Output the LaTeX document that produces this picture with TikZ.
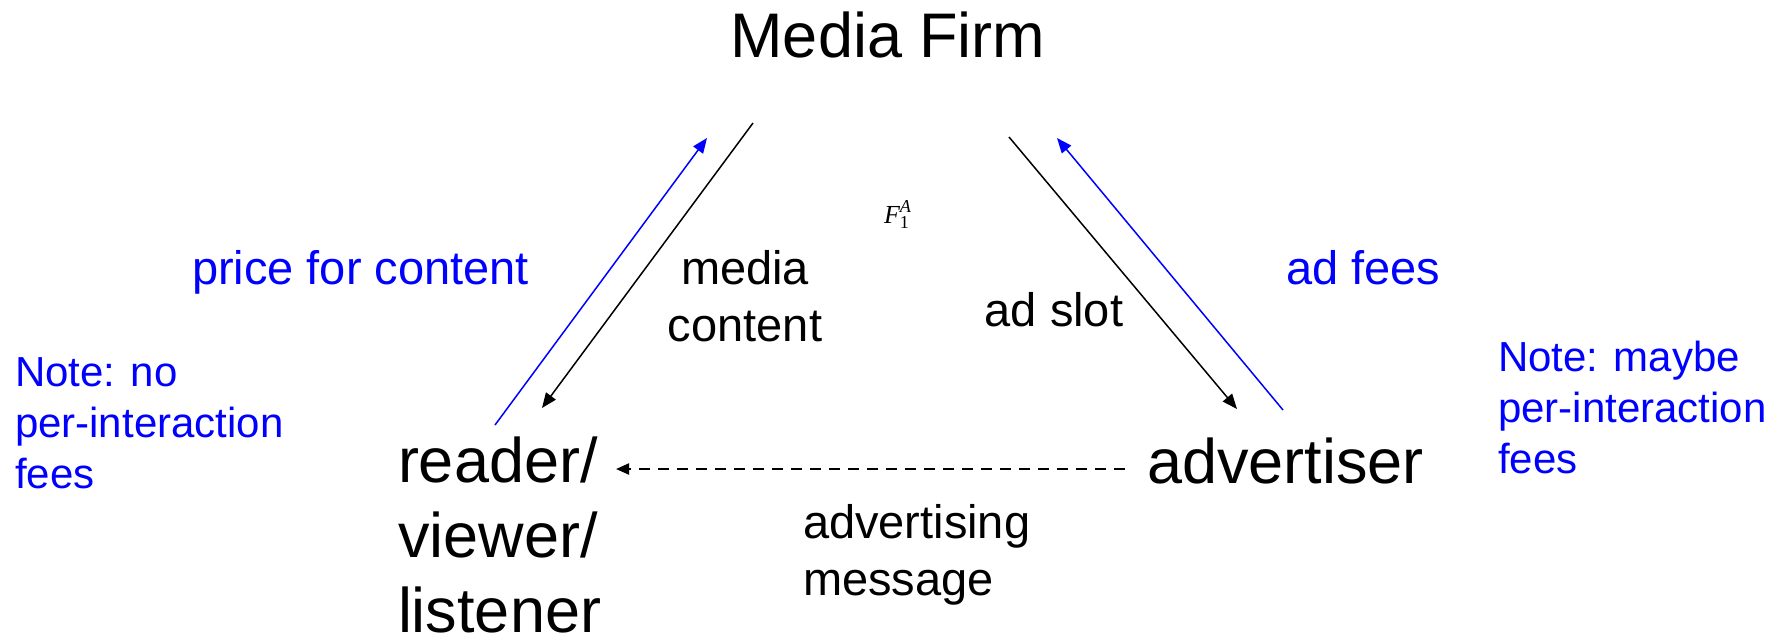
\documentclass[tikz,border=0pt]{standalone}
\usepackage{amsmath}
\usepackage{fontspec}
\setmainfont{Liberation Sans}
\newfontfamily\timesf{Liberation Serif}
\usetikzlibrary{arrows.meta}

\begin{document}
\begin{tikzpicture}[x=0.5pt,y=-0.5pt,
  every node/.style={inner sep=0pt, outer sep=0pt},
  bigtext/.style={font=\fontsize{31.5}{37.5}\selectfont},
  midtext/.style={font=\fontsize{23.5}{28.5}\selectfont},
  notetext/.style={font=\fontsize{21}{25.5}\selectfont, text=blue, align=left},
  flow/.style={line width=0.75pt, -{Triangle[length=7.5pt,width=6pt]}},
  payflow/.style={flow, draw=blue},
  msgflow/.style={line width=1.1pt, dash pattern=on 5.5pt off 4pt,
    -{Triangle[length=6.5pt,width=5.5pt]}}
]
\useasboundingbox (0,0) rectangle (1782,639);

% parties (multi-line nodes are placed by the baseline of their last line)
\node[bigtext, anchor=base] (firm) at (888,57) {Media Firm};
\node[bigtext, anchor=base west, align=left] (reader) at (398,632) {reader/\\viewer/\\listener};
\node[bigtext, anchor=base west] (advertiser) at (1147,483) {advertiser};

% flow labels
\node[midtext, anchor=base, align=center] (content) at (745,341) {media\\content};
\node[midtext, anchor=base] (slot) at (1054,326) {ad slot};
\node[midtext, anchor=base west, text=blue] (price) at (192,284) {price for content};
\node[midtext, anchor=base west, text=blue] (fees) at (1286,284) {ad fees};
\node[midtext, anchor=base west, align=left] (message) at (803,595) {advertising\\message};
\node[anchor=base west, font=\fontsize{13}{15}\selectfont] (fa) at (884,223)
  {$\text{\timesf\itshape F}_{\text{\timesf 1}}^{\text{\timesf\itshape A}}$};

% side notes
\node[notetext, anchor=base west] (noteL) at (15,488) {Note: no\\per-interaction\\fees};
\node[notetext, anchor=base west] (noteR) at (1498,473) {Note: maybe\\per-interaction\\fees};

% arrow end points
\coordinate (rdOut) at (495,425);
\coordinate (mfIn1) at (707,138);
\coordinate (mfOut1) at (753,123);
\coordinate (rdIn) at (542,408);
\coordinate (mfOut2) at (1009,137);
\coordinate (adIn) at (1237,409);
\coordinate (adOut) at (1283,410);
\coordinate (mfIn2) at (1057,138);
\coordinate (msgFrom) at (1125,469);
\coordinate (msgTo) at (616,469);

% flows
\draw[payflow] (rdOut) -- (mfIn1);
\draw[flow] (mfOut1) -- (rdIn);
\draw[flow] (mfOut2) -- (adIn);
\draw[payflow] (adOut) -- (mfIn2);
\draw[msgflow] (msgFrom) -- (msgTo);
\end{tikzpicture}
\end{document}
